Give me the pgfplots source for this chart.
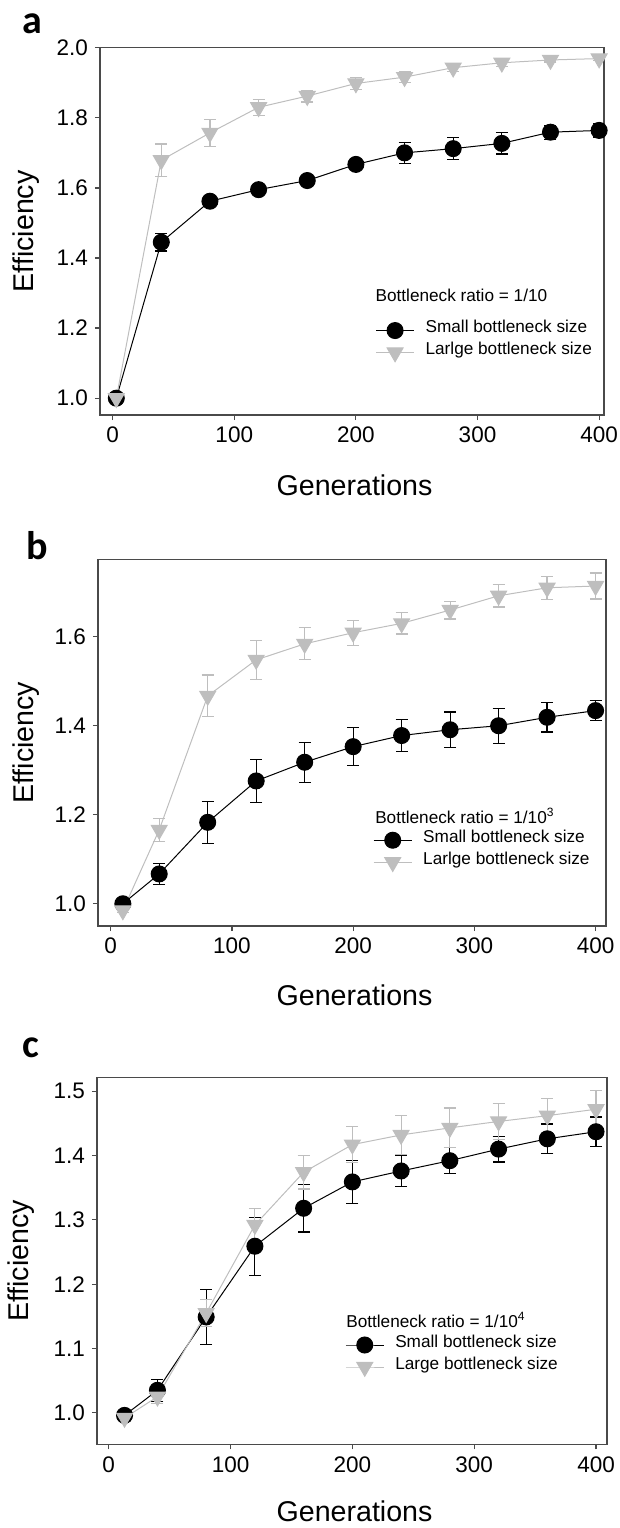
\documentclass[border=0pt]{standalone}
\usepackage{fontspec}
\setmainfont{Liberation Sans}
\newfontfamily\lblfont{Carlito}
\usepackage{pgfplots}
\pgfplotsset{compat=1.18}
\definecolor{lg}{HTML}{BEBEBE}
\definecolor{ax}{HTML}{4A4A4A}

\pgfplotsset{
  panel/.style={
    scale only axis,
    axis line style={ax, line width=0.7pt},
    tick align=outside, tick pos=left,
    major tick length=2.5pt,
    tick style={ax, line width=0.6pt},
    tick label style={font=\fontsize{11.25}{13}\selectfont},
    /pgf/number format/assume math mode=true,
    y tick label style={/pgf/number format/.cd, fixed, fixed zerofill, precision=1},
    xtick={0,100,200,300,400},
    xlabel={Generations}, ylabel={Efficiency},
    legend style={draw=none, fill=none, anchor=north west, inner sep=0pt,
      font=\fontsize{8.6}{10}\selectfont, row sep=0pt, column sep=5.5pt,
      nodes={inner sep=0pt, text height=6.5pt, text depth=4.5pt}},
    legend cell align=left,
    legend image code/.code={\draw[mark repeat=2,mark phase=2,#1] plot coordinates {(0pt,0pt) (9.5pt,0pt) (19pt,0pt)};},
  },
  ylab/.style={every axis y label/.style={at={(axis description cs:#1,0.5)}, rotate=90, anchor=center, font=\fontsize{14.3}{16}\selectfont}},
  xlab/.style={every axis x label/.style={at={(axis description cs:0.505,#1)}, anchor=center, font=\fontsize{14.3}{16}\selectfont}},
  smallb/.style={black, line width=0.5pt, mark=*, mark size=4pt,
    mark options={fill=black, draw=black, line width=0.5pt},
    error bars/y dir=both, error bars/y explicit,
    error bars/error bar style={black, line width=0.6pt},
    error bars/error mark options={rotate=90, mark size=3pt, black, line width=0.6pt}},
  largeb/.style={lg, line width=0.5pt, mark=triangle*, mark size=4.6pt,
    mark options={rotate=180, fill=lg, draw=lg, line width=0.5pt},
    error bars/y dir=both, error bars/y explicit,
    error bars/error bar style={lg, line width=0.6pt},
    error bars/error mark options={rotate=90, mark size=3pt, lg, line width=0.6pt}},
}

\pgfplotstableread{
x y e
3 1.0 0.008
40 1.445 0.025
80 1.562 0.012
120 1.595 0.01
160 1.621 0.01
200 1.667 0.01
240 1.700 0.03
280 1.712 0.031
320 1.727 0.03
360 1.759 0.02
400 1.764 0.019
}\aSmall
\pgfplotstableread{
x y e
3 1.0 0.005
40 1.679 0.046
80 1.757 0.038
120 1.830 0.023
160 1.862 0.017
200 1.898 0.017
240 1.916 0.015
280 1.943 0.01
320 1.957 0.01
360 1.965 0.006
400 1.969 0.006
}\aLarge
\pgfplotstableread{
x y e
10 1.0 0.005
40 1.067 0.023
80 1.183 0.047
120 1.276 0.048
160 1.318 0.045
200 1.353 0.043
240 1.378 0.036
280 1.391 0.04
320 1.400 0.039
360 1.419 0.033
400 1.434 0.023
}\bSmall
\pgfplotstableread{
x y e
10 0.985 0.005
40 1.166 0.026
80 1.467 0.047
120 1.548 0.044
160 1.584 0.036
200 1.609 0.028
240 1.630 0.024
280 1.660 0.02
320 1.692 0.025
360 1.710 0.026
400 1.714 0.029
}\bLarge
\pgfplotstableread{
x y e
13 0.996 0.005
40 1.035 0.017
80 1.149 0.043
120 1.259 0.045
160 1.318 0.037
200 1.359 0.033
240 1.376 0.024
280 1.392 0.02
320 1.410 0.02
360 1.426 0.023
400 1.437 0.023
}\cSmall
\pgfplotstableread{
x y e
13 0.992 0.005
40 1.025 0.01
80 1.155 0.021
120 1.292 0.026
160 1.374 0.026
200 1.417 0.028
240 1.432 0.03
280 1.443 0.031
320 1.453 0.028
360 1.462 0.027
400 1.472 0.029
}\cLarge

\begin{document}
\begin{tikzpicture}
\useasboundingbox (0,0) rectangle (310pt,-764pt);

% Panel a
\begin{axis}[panel, ylab=-0.147, xlab=-0.19, at={(50pt,-207.5pt)}, anchor=south west,
  width=252pt, height=183.65pt,
  xmin=-10.4, xmax=404, ymin=0.952, ymax=2.0,
  ytick={1.0,1.2,1.4,1.6,1.8,2.0},
  legend style={at={(axis description cs:0.546,0.261)}}]
\addplot[smallb] table[x=x,y=y,y error=e] {\aSmall};
\addlegendentry{Small bottleneck size}
\addplot[largeb] table[x=x,y=y,y error=e] {\aLarge};
\addlegendentry{Larlge bottleneck size}
\node[anchor=west, font=\fontsize{8.6}{10}\selectfont, inner sep=0pt] at (axis description cs:0.546,0.327) {Bottleneck ratio = 1/10};
\end{axis}

% Panel b
\begin{axis}[panel, ylab=-0.142, xlab=-0.188, at={(49pt,-463pt)}, anchor=south west,
  width=254pt, height=183.35pt,
  xmin=-10.5, xmax=408.6, ymin=0.95, ymax=1.774,
  ytick={1.0,1.2,1.4,1.6},
  legend style={at={(axis description cs:0.541,0.265)}}]
\addplot[smallb] table[x=x,y=y,y error=e] {\bSmall};
\addlegendentry{Small bottleneck size}
\addplot[largeb] table[x=x,y=y,y error=e] {\bLarge};
\addlegendentry{Larlge bottleneck size}
\node[anchor=west, font=\fontsize{8.6}{10}\selectfont, inner sep=0pt] at (axis description cs:0.545,0.30) {Bottleneck ratio = 1/10\textsuperscript{3}};
\end{axis}

% Panel c
\begin{axis}[panel, ylab=-0.148, xlab=-0.182, at={(48.5pt,-722.15pt)}, anchor=south west,
  width=255pt, height=183.3pt,
  xmin=-9.6, xmax=409, ymin=0.951, ymax=1.521,
  ytick={1.0,1.1,1.2,1.3,1.4,1.5},
  legend style={at={(axis description cs:0.486,0.302)}}]
\addplot[smallb] table[x=x,y=y,y error=e] {\cSmall};
\addlegendentry{Small bottleneck size}
\addplot[largeb] table[x=x,y=y,y error=e] {\cLarge};
\addlegendentry{Large bottleneck size}
\node[anchor=west, font=\fontsize{8.6}{10}\selectfont, inner sep=0pt] at (axis description cs:0.488,0.339) {Bottleneck ratio = 1/10\textsuperscript{4}};
\end{axis}

\node[anchor=base west, inner sep=0pt, font=\lblfont\bfseries\fontsize{20}{24}\selectfont] at (11.25pt,-16.5pt) {a};
\node[anchor=base west, inner sep=0pt, font=\lblfont\bfseries\fontsize{20}{24}\selectfont] at (12.8pt,-279.6pt) {b};
\node[anchor=base west, inner sep=0pt, font=\lblfont\bfseries\fontsize{20}{24}\selectfont] at (10.8pt,-528.6pt) {c};
\end{tikzpicture}
\end{document}
